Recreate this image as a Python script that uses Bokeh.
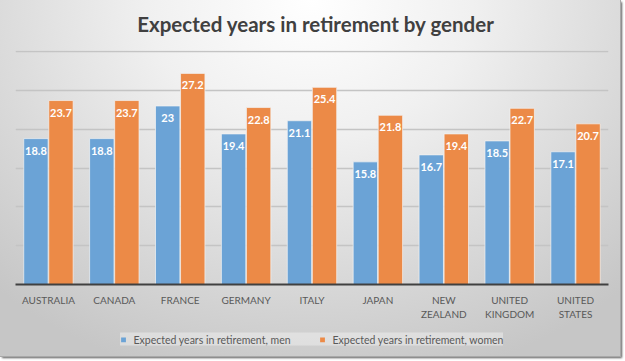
from bokeh.plotting import figure
from bokeh.layouts import column
from bokeh.models import ColumnDataSource, FactorRange, Range1d, FixedTicker, Legend, LegendItem, Div
from bokeh.transform import dodge
from bokeh.core.properties import value
from bokeh.embed import file_html
from bokeh.resources import INLINE

title_text = "Expected years in retirement by gender"
countries = ["AUSTRALIA", "CANADA", "FRANCE", "GERMANY", "ITALY", "JAPAN",
             "NEW\nZEALAND", "UNITED\nKINGDOM", "UNITED\nSTATES"]
men = [18.8, 18.8, 23.0, 19.4, 21.1, 15.8, 16.7, 18.5, 17.1]
women = [23.7, 23.7, 27.2, 22.8, 25.4, 21.8, 19.4, 22.7, 20.7]
men_labels = ["18.8", "18.8", "23", "19.4", "21.1", "15.8", "16.7", "18.5", "17.1"]
women_labels = ["23.7", "23.7", "27.2", "22.8", "25.4", "21.8", "19.4", "22.7", "20.7"]
series_names = ["Expected years in retirement, men", "Expected years in retirement, women"]
grid_ticks = [0, 5, 10, 15, 20, 25, 30]

FONT = "Lato"
BLUE = "#6BA3D6"
ORANGE = "#EC8A47"
W = 620

src = ColumnDataSource(dict(c=countries, men=men, women=women,
                            ml=men_labels, wl=women_labels))

title_div = Div(text=title_text, width=W, height=48,
                styles={"font-family": "Lato", "font-size": "20.5px", "font-weight": "bold",
                        "color": "#404040", "text-align": "center", "line-height": "49px",
                        "text-indent": "11px", "margin": "0", "padding": "0"})

p = figure(x_range=FactorRange(*countries, range_padding=0),
           y_range=Range1d(0, 30.15),
           width=W, height=274, output_backend="svg", toolbar_location=None,
           min_border_left=15, min_border_right=12, min_border_top=2, min_border_bottom=37)

p.background_fill_color = None
p.border_fill_color = None
p.outline_line_color = None

r_men = p.vbar(x=dodge("c", -0.19, range=p.x_range), top="men", width=0.37, source=src,
               fill_color=BLUE, line_color="#f4f4f4", line_alpha=0.7, line_width=1)
r_women = p.vbar(x=dodge("c", 0.19, range=p.x_range), top="women", width=0.37, source=src,
                 fill_color=ORANGE, line_color="#f4f4f4", line_alpha=0.7, line_width=1)

p.text(x=dodge("c", -0.19, range=p.x_range), y="men", text="ml", source=src,
       text_align="center", text_baseline="middle", y_offset=12,
       text_font=value(FONT), text_font_size="11px", text_font_style="bold", text_color="white")
p.text(x=dodge("c", 0.19, range=p.x_range), y="women", text="wl", source=src,
       text_align="center", text_baseline="middle", y_offset=12,
       text_font=value(FONT), text_font_size="11px", text_font_style="bold", text_color="white")

p.yaxis.visible = False
p.yaxis.ticker = FixedTicker(ticks=grid_ticks)
p.ygrid.grid_line_color = "#c4c4c4"
p.ygrid.grid_line_width = 1.5
p.xgrid.grid_line_color = None

xa = p.xaxis[0]
xa.axis_line_color = "#404040"
xa.axis_line_width = 2
xa.major_tick_line_color = None
xa.minor_tick_line_color = None
xa.major_tick_out = 0
xa.major_label_standoff = 9
xa.major_label_text_font = FONT
xa.major_label_text_font_size = "10px"
xa.major_label_text_color = "#595959"

# legend strip: same series drawn out of view, legend in its frame
pl = figure(x_range=FactorRange(*countries, range_padding=0), y_range=Range1d(100, 101),
            width=W, height=34, output_backend="svg", toolbar_location=None,
            min_border=0, min_border_left=0, min_border_right=0, min_border_top=0, min_border_bottom=0)
pl.background_fill_color = None
pl.border_fill_color = None
pl.outline_line_color = None
pl.axis.visible = False
pl.grid.visible = False
lm = pl.vbar(x="c", top="men", width=0.37, source=src, fill_color=BLUE, line_color=None)
lw = pl.vbar(x="c", top="women", width=0.37, source=src, fill_color=ORANGE, line_color=None)

legend = Legend(items=[LegendItem(label=series_names[0], renderers=[lm]),
                       LegendItem(label=series_names[1], renderers=[lw])],
                orientation="horizontal", location="center",
                label_text_font=FONT, label_text_font_size="10.5px", label_text_color="#595959",
                glyph_width=6, glyph_height=6, label_height=13, label_standoff=8,
                spacing=28, padding=4,
                background_fill_color="#f4f4f4", background_fill_alpha=0.45,
                border_line_color=None)
pl.add_layout(legend, "center")

layout = column(title_div, p, pl, spacing=0)
layout.styles = {
    "background": "radial-gradient(ellipse 75% 110% at 50% 0%, #ffffff 0%, #f0f0f0 35%, #d6d6d6 75%, #c6c6c6 100%)",
    "outline": "1px solid #a8a8a8",
    "box-shadow": "2px 2px 2px rgba(0,0,0,0.65)",
}

open("out.html", "w").write(file_html(layout, INLINE))
